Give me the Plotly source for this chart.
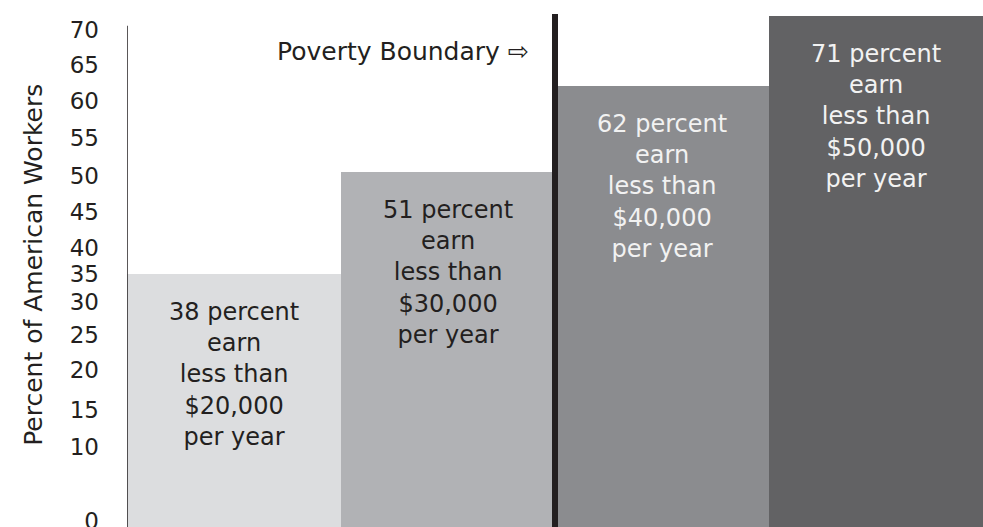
import plotly.graph_objects as go

categories = ["$20,000", "$30,000", "$40,000", "$50,000"]
percent_values = [38, 51, 62, 71]
bar_labels = [
    "38 percent<br>earn<br>less than<br>$20,000<br>per year",
    "51 percent<br>earn<br>less than<br>$30,000<br>per year",
    "62 percent<br>earn<br>less than<br>$40,000<br>per year",
    "71 percent<br>earn<br>less than<br>$50,000<br>per year",
]
tick_labels = ["70", "65", "60", "55", "50", "45", "40", "35", "30", "25", "20", "15", "10", "0"]
# where each printed tick label sits on the value scale of the original drawing
tick_positions = [69.2, 64.7, 60.2, 55.4, 50.6, 46.0, 41.3, 38.0, 34.4, 30.2, 25.7, 20.6, 15.9, 6.4]

bar_colors = ["#dcdddf", "#b1b2b5", "#8b8c8f", "#626264"]
text_colors = ["#231f20", "#231f20", "#f2f2f2", "#f2f2f2"]
FONT = "DejaVu Sans, sans-serif"
INK = "#231f20"

fig = go.Figure()
fig.add_trace(go.Bar(
    x=list(range(len(categories))),
    y=percent_values,
    marker=dict(color=bar_colors, line=dict(width=0)),
    width=1.0,
    hoverinfo="skip",
    showlegend=False,
))

for i, (v, lab) in enumerate(zip(percent_values, bar_labels)):
    fig.add_annotation(
        x=i, y=v, xref="x", yref="y",
        text=lab, showarrow=False,
        yanchor="top", yshift=-22,
        font=dict(family=FONT, size=24, color=text_colors[i]),
        align="center",
    )

# poverty boundary line between second and third bar
fig.add_shape(type="line", xref="x", yref="paper",
              x0=1.5, x1=1.5, y0=0, y1=1,
              line=dict(color=INK, width=6))
fig.add_annotation(
    x=1.5, y=0.926, xref="x", yref="paper",
    text="Poverty Boundary ⇨", showarrow=False,
    xanchor="right", yanchor="middle", xshift=-24,
    font=dict(family=FONT, size=25, color=INK),
)

# vertical axis line
fig.add_shape(type="line", xref="x", yref="paper",
              x0=-0.5, x1=-0.5, y0=0, y1=0.977,
              line=dict(color=INK, width=1.5))

fig.add_annotation(
    x=-0.1285, y=0.51, xref="paper", yref="paper",
    text="Percent of American Workers", showarrow=False,
    textangle=-90,
    font=dict(family=FONT, size=25, color=INK),
)

fig.update_layout(
    width=983, height=527,
    margin=dict(l=127, r=0, t=14, b=0, autoexpand=False),
    paper_bgcolor="white", plot_bgcolor="white",
    bargap=0,
    xaxis=dict(range=[-0.5, 3.5], showticklabels=False, showgrid=False,
               zeroline=False, showline=False, fixedrange=True,
               automargin=False),
    yaxis=dict(range=[5.64, 71.27], tickmode="array",
               tickvals=tick_positions, ticktext=tick_labels,
               showgrid=False, zeroline=False, showline=False,
               ticks="", ticklabelstandoff=27, ticklabeloverflow="allow",
               tickfont=dict(family=FONT, size=23, color=INK),
               automargin=False, fixedrange=True),
)

fig.write_html(
    "out.html",
    config={"displayModeBar": False},
    post_script=("document.body.style.margin='0';"
                 "document.body.style.overflow='hidden';"
                 "document.documentElement.style.overflow='hidden';"),
)
